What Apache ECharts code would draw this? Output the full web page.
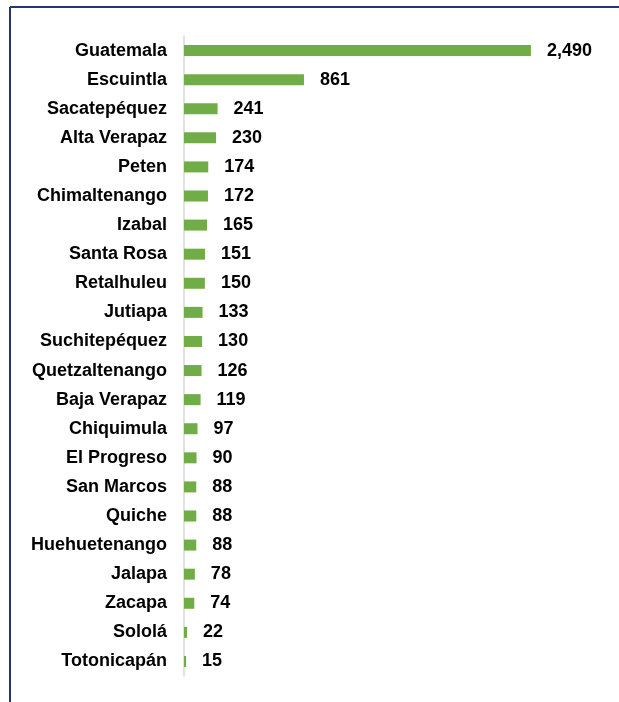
<!DOCTYPE html>
<html>
<head>
<meta charset="utf-8">
<script src="https://cdn.jsdelivr.net/npm/echarts@6/dist/echarts.min.js"></script>
<style>
  html, body { margin: 0; padding: 0; background: #ffffff; }
  #chart { width: 619px; height: 702px; }
</style>
</head>
<body>
<div id="chart"></div>
<script>
// Departments, listed top to bottom
const departments = [
  'Guatemala', 'Escuintla', 'Sacatepéquez', 'Alta Verapaz', 'Peten',
  'Chimaltenango', 'Izabal', 'Santa Rosa', 'Retalhuleu', 'Jutiapa',
  'Suchitepéquez', 'Quetzaltenango', 'Baja Verapaz', 'Chiquimula',
  'El Progreso', 'San Marcos', 'Quiche', 'Huehuetenango', 'Jalapa',
  'Zacapa', 'Sololá', 'Totonicapán'
];
const counts = [
  2490, 861, 241, 230, 174,
  172, 165, 151, 150, 133,
  130, 126, 119, 97,
  90, 88, 88, 88, 78,
  74, 22, 15
];

const chart = echarts.init(document.getElementById('chart'), null, { renderer: 'canvas' });
const font = '"Liberation Sans", Arial, sans-serif';

chart.setOption({
  animation: false,
  backgroundColor: '#ffffff',
  graphic: [
    { type: 'line', shape: { x1: 10, y1: 7, x2: 619, y2: 7 }, style: { stroke: '#1f3a73', lineWidth: 2 } },
    { type: 'line', shape: { x1: 10, y1: 7, x2: 10, y2: 702 }, style: { stroke: '#1f3a73', lineWidth: 2 } }
  ],
  grid: { left: 184, top: 36, width: 418, height: 640, containLabel: false },
  xAxis: {
    type: 'value',
    min: 0,
    max: 3000,
    show: false
  },
  yAxis: {
    type: 'category',
    data: departments,
    inverse: true,
    axisLine: { show: true, lineStyle: { color: '#d9d9d9', width: 1.5 } },
    axisTick: { show: false },
    axisLabel: {
      margin: 17,
      color: '#000000',
      fontFamily: font,
      fontWeight: 'bold',
      fontSize: 18
    }
  },
  series: [{
    type: 'bar',
    data: counts,
    barWidth: 11,
    itemStyle: { color: '#70ad47' },
    label: {
      show: true,
      position: 'right',
      distance: 16,
      color: '#000000',
      fontFamily: font,
      fontWeight: 'bold',
      fontSize: 18,
      formatter: p => p.value.toLocaleString('en-US')
    }
  }]
});
</script>
</body>
</html>
